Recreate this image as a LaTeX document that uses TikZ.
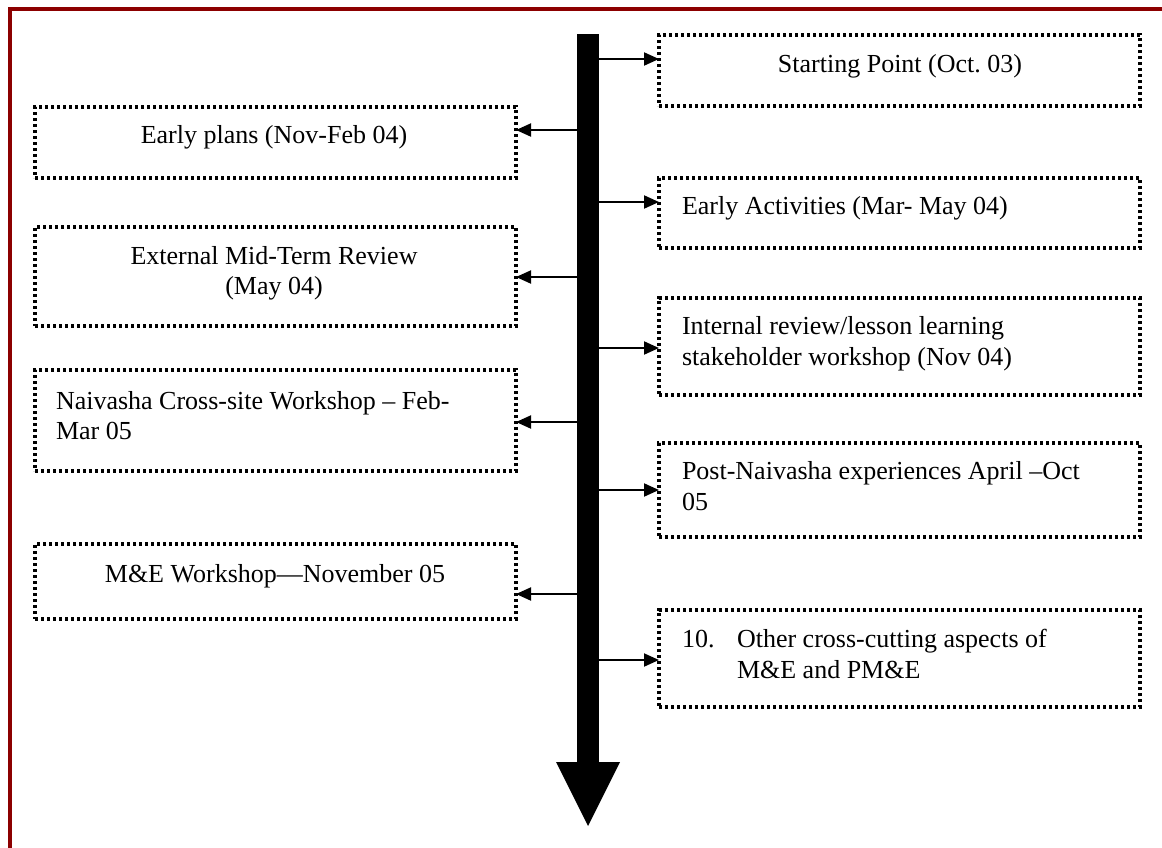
\documentclass[tikz,border=0pt]{standalone}
\usepackage{fontspec}
\setmainfont{Liberation Serif}
\usetikzlibrary{arrows.meta}
\definecolor{framered}{RGB}{140,0,0}
\frenchspacing
\begin{document}
\begin{tikzpicture}[x=1pt,y=-1pt,
  dotbox/.style={draw=black, line width=3.5pt, dash pattern=on 3.3pt off 2.7pt, rectangle, inner sep=0pt, outer sep=0pt, anchor=north west, minimum width=481pt},
  lbl/.style={inner sep=0pt, outer sep=0pt, font=\fontsize{26}{30}\selectfont},
  conn/.style={line width=2pt, -{Triangle[length=15pt,width=13pt]}},
]
\useasboundingbox (0,0) rectangle (1162,847);
\fill[white] (0,0) rectangle (1162,847);
\draw[framered, line width=4pt] (10,849) -- (10,9) -- (1164,9);

% central bar
\node[fill=black, inner sep=0pt, outer sep=0pt, minimum width=22pt, minimum height=728pt, anchor=north] (bar) at (588,34) {};
\fill[black] ([xshift=-32pt]bar.south) -- ([xshift=32pt]bar.south) -- ([yshift=-64pt]bar.south) -- cycle;

% right boxes
\node[dotbox, minimum height=71pt] (r1) at (659,35) {};
\node[dotbox, minimum height=70pt] (r2) at (659,178) {};
\node[dotbox, minimum height=97pt] (r3) at (659,298) {};
\node[dotbox, minimum height=94pt] (r4) at (659,443) {};
\node[dotbox, minimum height=97pt] (r5) at (659,610) {};
% left boxes
\node[dotbox, minimum height=71pt] (la) at (35,107) {};
\node[dotbox, minimum height=99pt] (lb) at (35,227) {};
\node[dotbox, minimum height=101pt] (lc) at (35,370) {};
\node[dotbox, minimum height=75pt] (ld) at (35,544) {};

% texts
\node[lbl, anchor=base] (t1) at (900,72) {Starting Point (Oct. 03)};
\node[lbl, anchor=base west] (t2) at (682,214) {Early Activities (Mar- May 04)};
\node[lbl, anchor=base west] (t3a) at (682,334) {Internal review/lesson learning};
\node[lbl, anchor=base west] (t3b) at (682,365) {stakeholder workshop (Nov 04)};
\node[lbl, anchor=base west] (t4a) at (682,479) {Post-Naivasha experiences April –Oct};
\node[lbl, anchor=base west] (t4b) at (682,510) {05};
\node[lbl, anchor=base west] (t5n) at (682,647) {10.};
\node[lbl, anchor=base west] (t5a) at (737,647) {Other cross-cutting aspects of};
\node[lbl, anchor=base west] (t5b) at (737,678) {M\&E and PM\&E};

\node[lbl, anchor=base] (ta) at (274,143) {Early plans (Nov-Feb 04)};
\node[lbl, anchor=base] (tba) at (274,264) {External Mid-Term Review};
\node[lbl, anchor=base] (tbb) at (274,294) {(May 04)};
\node[lbl, anchor=base west] (tca) at (56,409) {Naivasha Cross-site Workshop – Feb-};
\node[lbl, anchor=base west] (tcb) at (56,439) {Mar 05};
\node[lbl, anchor=base] (td) at (275,582) {M\&E Workshop—November 05};

% arrow levels
\coordinate (y1) at (0,59);
\coordinate (y2) at (0,202);
\coordinate (y3) at (0,348);
\coordinate (y4) at (0,490);
\coordinate (y5) at (0,660);
\coordinate (ya) at (0,130);
\coordinate (yb) at (0,277);
\coordinate (yc) at (0,422);
\coordinate (yd) at (0,594);

\draw[conn] (bar.east |- y1) -- (r1.west |- y1);
\draw[conn] (bar.east |- y2) -- (r2.west |- y2);
\draw[conn] (bar.east |- y3) -- (r3.west |- y3);
\draw[conn] (bar.east |- y4) -- (r4.west |- y4);
\draw[conn] (bar.east |- y5) -- (r5.west |- y5);
\draw[conn] (bar.west |- ya) -- (la.east |- ya);
\draw[conn] (bar.west |- yb) -- (lb.east |- yb);
\draw[conn] (bar.west |- yc) -- (lc.east |- yc);
\draw[conn] (bar.west |- yd) -- (ld.east |- yd);
\end{tikzpicture}
\end{document}
